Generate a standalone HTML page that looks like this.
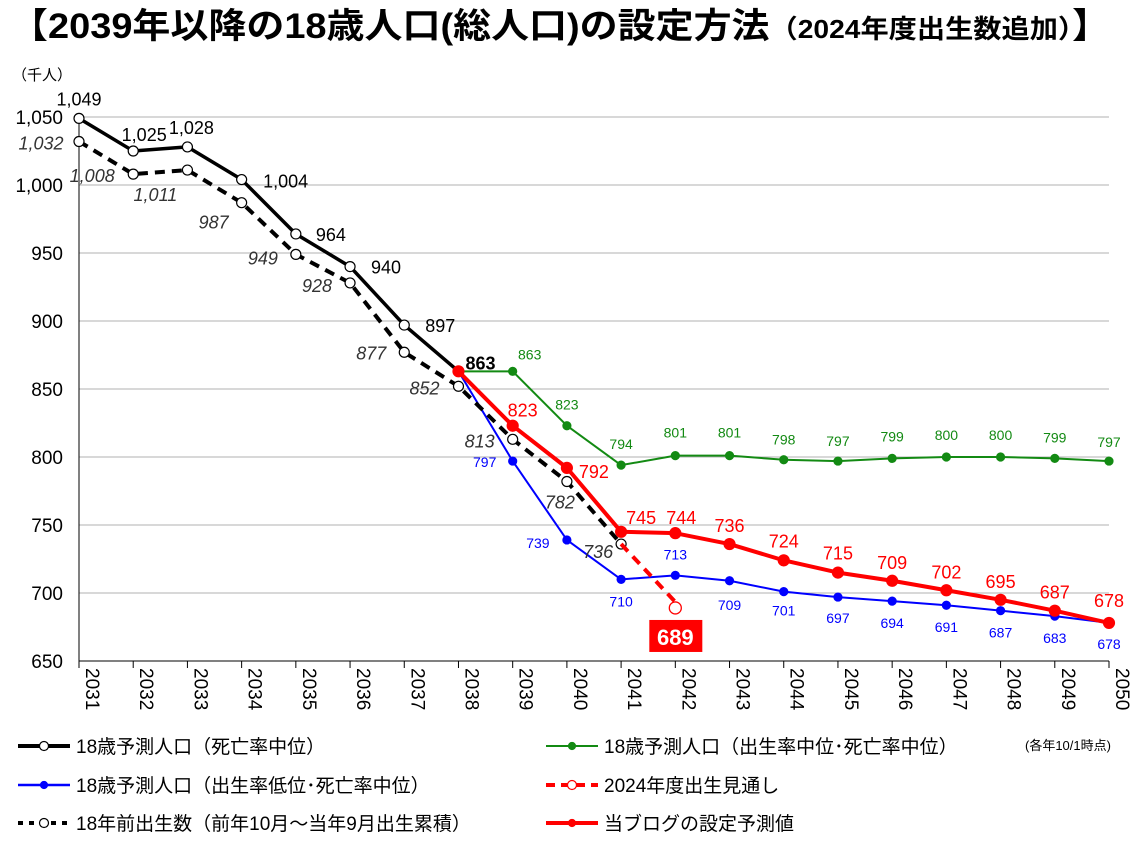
<!DOCTYPE html>
<html><head><meta charset="utf-8">
<style>
html,body{margin:0;padding:0;background:#fff;}
body{width:1145px;height:842px;overflow:hidden;font-family:"Liberation Sans","Noto Sans CJK JP",sans-serif;}
svg text{font-family:"Liberation Sans","Noto Sans CJK JP",sans-serif;}
</style></head>
<body>
<svg id="chart" width="1145" height="842" xmlns="http://www.w3.org/2000/svg">
<text x="10" y="38" font-size="35" font-weight="bold" fill="#000" textLength="1100" lengthAdjust="spacingAndGlyphs">【2039年以降の18歳人口(総人口)の設定方法<tspan font-size="26">（2024年度出生数追加）</tspan>】</text>
<text x="12" y="80" font-size="15">（千人）</text>
<g id="grid"></g>
<g id="marks"></g>
<g id="legend"></g>
</svg>
<script>
const years=[2031,2032,2033,2034,2035,2036,2037,2038,2039,2040,2041,2042,2043,2044,2045,2046,2047,2048,2049,2050];
const yTicks=[650,700,750,800,850,900,950,1000,1050];
const yTickLabels=["650","700","750","800","850","900","950","1,000","1,050"];
const solidYears=[2031,2032,2033,2034,2035,2036,2037,2038];
const solidVals=[1049,1025,1028,1004,964,940,897,863];
const birthYears=[2031,2032,2033,2034,2035,2036,2037,2038,2039,2040,2041];
const birthVals=[1032,1008,1011,987,949,928,877,852,813,782,736];
const projYears=[2038,2039,2040,2041,2042,2043,2044,2045,2046,2047,2048,2049,2050];
const greenVals=[863,863,823,794,801,801,798,797,799,800,800,799,797];
const blueVals=[863,797,739,710,713,709,701,697,694,691,687,683,678];
const redVals=[863,823,792,745,744,736,724,715,709,702,695,687,678];
const outlookYears=[2041,2042];
const outlookVals=[736,689];

const NS="http://www.w3.org/2000/svg";
const X0=79,X1=1109,Y0=661,Y1=117;
function xs(yr){return X0+(yr-2031)*(X1-X0)/19;}
function ys(v){return Y0-(v-650)*(Y0-Y1)/400;}
function mk(tag,attrs,parent,txt){const e=document.createElementNS(NS,tag);for(const k in attrs)e.setAttribute(k,attrs[k]);if(txt!==undefined)e.textContent=txt;parent.appendChild(e);return e;}
const grid=document.getElementById('grid'),marks=document.getElementById('marks'),leg=document.getElementById('legend');

yTicks.forEach((t,i)=>{
  if(t>650){const l=mk('line',{x1:X0,x2:X1,y1:ys(t),y2:ys(t),stroke:'#b0b0b0','stroke-width':1},grid);
  
  }
  const tx=mk('text',{x:63,y:ys(t)+7,'font-size':19,'text-anchor':'end'},grid,yTickLabels[i]);
  
  
});
mk('line',{x1:X0,x2:X0,y1:Y1,y2:Y0,stroke:'#000','stroke-width':1},grid);
mk('line',{x1:X0,x2:X1,y1:Y0,y2:Y0,stroke:'#000','stroke-width':1},grid);
years.forEach(yr=>{
  mk('line',{x1:xs(yr),x2:xs(yr),y1:Y0,y2:Y0+7,stroke:'#000'},grid);
  const tx=mk('text',{x:0,y:0,'font-size':19,'text-anchor':'start',transform:`translate(${xs(yr)+7},${Y0+7}) rotate(90)`},grid,String(yr));
  
  
});

function series(name,yrs,vals,color,width,dash,marker,r){
  const g=mk('g',{},marks);
  
  
  const pts=yrs.map((y,i)=>xs(y)+','+ys(vals[i])).join(' ');
  const a={points:pts,fill:'none',stroke:color,'stroke-width':width,'stroke-linejoin':'round'};
  if(dash)a['stroke-dasharray']=dash;
  mk('polyline',a,g);
  yrs.forEach((y,i)=>{
    const c=mk('circle',{cx:xs(y),cy:ys(vals[i]),r:r,fill:marker==='open'?'#fff':color,stroke:color,'stroke-width':1.2},g);
    
    
  });
  return g;
}
function fmt(v){return v>=1000?Math.floor(v/1000)+','+String(v%1000).padStart(3,'0'):String(v);}
function labels(name,yrs,vals,offs,color,size,extra){
  yrs.forEach((y,i)=>{
    if(!offs[i])return;
    const a={x:xs(y)+offs[i][0],y:ys(vals[i])+offs[i][1],'font-size':size,fill:color,'text-anchor':'middle'};
    Object.assign(a,extra||{});
    const t=mk('text',a,marks,fmt(vals[i]));
    
    
  });
}

series('green-series',projYears,greenVals,'#138a13',2,null,'dot',4);
series('blue-series',projYears,blueVals,'#0000ff',2,null,'dot',4);
series('birth-series',birthYears,birthVals,'#000',4,'10,7','open',5);
series('solid-series',solidYears,solidVals,'#000',3.5,null,'open',5);
series('red-series',projYears,redVals,'#ff0000',4,null,'dot',5.5);
const og=mk('g',{},marks);


mk('line',{x1:xs(outlookYears[0]),y1:ys(outlookVals[0]),x2:xs(outlookYears[1]),y2:ys(outlookVals[1])-6,stroke:'#ff0000','stroke-width':4,'stroke-dasharray':'10,7'},og);
mk('circle',{cx:xs(outlookYears[1]),cy:ys(outlookVals[1]),r:6,fill:'#fff',stroke:'#ff0000','stroke-width':1.3},og);
const bx=xs(outlookYears[1]);
const rb=mk('rect',{x:bx-26,y:ys(outlookVals[1])+12,width:53,height:32,fill:'#ff0000'},og);


mk('text',{x:bx,y:ys(outlookVals[1])+37,'font-size':22,'font-weight':'bold',fill:'#fff','text-anchor':'middle'},og,String(outlookVals[1]));

labels('solid',solidYears,solidVals,[[0,-13],[11,-10],[4,-13],[44,8],[35,7],[36,7],[36,7],[22,-2]],'#000',18);
marks.lastChild.setAttribute('font-weight','bold');
labels('birth',birthYears,birthVals,[[-38,8],[-41,8],[-32,31],[-28,26],[-33,10],[-33,9],[-33,7],[-34,8],[-33,8],[-7,27],[-23,14]],'#333',18,{'font-style':'italic'});
labels('green',projYears,greenVals,[null,[17,-12],[0,-16],[0,-16],[0,-18],[0,-18],[0,-15],[0,-15],[0,-17],[0,-17],[0,-17],[0,-16],[0,-14]],'#138a13',14);
labels('blue',projYears,blueVals,[null,[-28,6],[-29,8],[0,27],[0,-16],[0,29],[0,24],[0,26],[0,27],[0,27],[0,27],[0,27],[0,26]],'#0000ff',14);
labels('red',projYears,redVals,[null,[10,-9],[27,10],[20,-8],[6,-9],[0,-12],[0,-13],[0,-13],[0,-12],[0,-12],[0,-12],[0,-12],[0,-16]],'#ff0000',18);

function legItem(name,x,y,color,w,dash,marker,text){
  const g=mk('g',{},leg);
  
  
  const a={x1:x,x2:x+52,y1:y,y2:y,stroke:color,'stroke-width':w};
  if(dash)a['stroke-dasharray']=dash;
  mk('line',a,g);
  mk('circle',{cx:x+26,cy:y,r:marker==='open'?4.5:3.5,fill:marker==='open'?'#fff':color,stroke:color,'stroke-width':1.2},g);
  mk('text',{x:x+58,y:y+7,'font-size':19},g,text);
}
legItem('legend-solid',18,746,'#000',4,null,'open','18歳予測人口（死亡率中位）');
legItem('legend-green',546,746,'#138a13',2,null,'dot','18歳予測人口（出生率中位･死亡率中位）');
legItem('legend-blue',18,785,'#0000ff',2.5,null,'dot','18歳予測人口（出生率低位･死亡率中位）');
legItem('legend-outlook',546,785,'#ff0000',4,'9,6','open','2024年度出生見通し');
legItem('legend-birth',18,823,'#000',4,'5,6','open','18年前出生数（前年10月～当年9月出生累積）');
legItem('legend-red',546,823,'#ff0000',4,null,'dot','当ブログの設定予測値');
const note=mk('text',{x:1025,y:750,'font-size':13},leg,'(各年10/1時点)');


</script>
</body></html>
